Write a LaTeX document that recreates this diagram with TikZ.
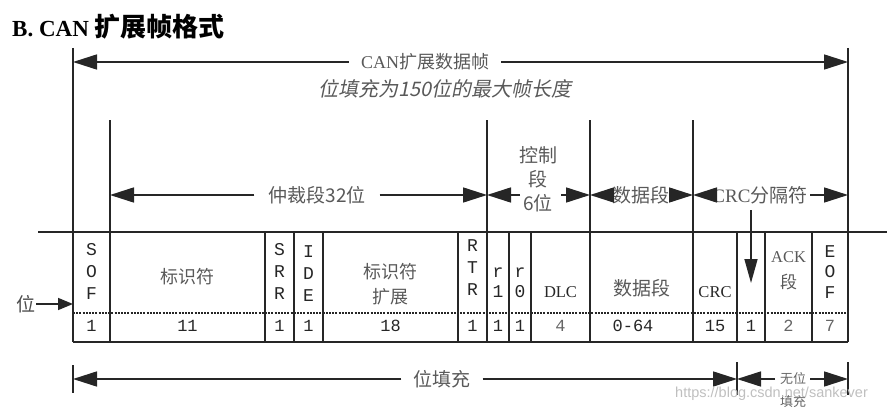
\documentclass[tikz,border=0pt]{standalone}
\usepackage{fontspec}
\setmainfont{Liberation Serif}
\newfontfamily\cjk{Noto Sans CJK SC}
\newfontfamily\cjkit[FakeSlant=0.2]{Noto Sans CJK SC}
\newfontfamily\mono{Liberation Mono}
\newfontfamily\wm{Liberation Sans}
\usetikzlibrary{arrows.meta}
\begin{document}
\begin{tikzpicture}[x=1pt,y=-1pt,
  >={Triangle[length=24pt,width=15pt]},
  frame/.style={line width=1.5pt, draw=black!85},
  dim/.style={line width=1.6pt, draw=black!85},
  lab/.style={font=\cjk\fontsize{19}{24}\selectfont, text=black!65, inner sep=0pt, align=center},
  labit/.style={font=\cjkit\fontsize{20}{22}\selectfont, text=black!65, inner sep=0pt},
  cell/.style={font=\cjk\fontsize{18}{25}\selectfont, text=black!65, align=center, inner sep=0pt},
  lett/.style={font=\mono\fontsize{18}{22}\selectfont, text=black!85, align=center, inner sep=0pt},
  lat/.style={font=\fontsize{16.5}{20}\selectfont, text=black!85, inner sep=0pt},
  num/.style={font=\mono\fontsize{17}{20}\selectfont, text=black!85, inner sep=0pt},
  small/.style={font=\cjk\fontsize{13}{23}\selectfont, text=black!60, align=center, inner sep=0pt}
]
\useasboundingbox (0,0) rectangle (895,412);

% title
\node[anchor=west, inner sep=0pt, font=\bfseries\fontsize{23}{28}\selectfont] (title) at (12,27) {B. CAN {\cjk\bfseries\fontsize{26}{28}\selectfont 扩展帧格式}};

% frame verticals
\draw[frame] (73,48) -- (73,342);
\draw[frame] (848,48) -- (848,342);
\foreach \x in {110,487,590,693} \draw[frame] (\x,120) -- (\x,342);

% table
\draw[frame] (38,232) -- (887,232);
\draw[frame] (73,342) -- (848,342);
\foreach \x in {265,294,323,458,509,531,737,765,812} \draw[frame] (\x,232) -- (\x,342);
\draw[line width=1.8pt, draw=black!85, dash pattern=on 2pt off 1.2pt] (73,313) -- (848,313);

% whole frame arrow
\node[lab, font=\cjk\fontsize{18}{24}\selectfont, inner xsep=12pt] (frm) at (425,62) {{\rmfamily CAN}扩展数据帧};
\coordinate (frmL) at (73,62);
\coordinate (frmR) at (848,62);
\draw[dim,->] (frm) -- (frmL);
\draw[dim,->] (frm) -- (frmR);
\node[labit] (frmsub) at (445,89) {位填充为150位的最大帧长度};

% arbitration
\node[lab, inner xsep=14pt] (arb) at (317,195) {仲裁段32位};
\coordinate (arbL) at (110,195);
\coordinate (arbR) at (487,195);
\draw[dim,->] (arb) -- (arbL);
\draw[dim,->] (arb) -- (arbR);

% control
\node[lab] (ctl) at (538,179) {控制\\段\\6位};
\coordinate (ctlA) at (520,195);
\coordinate (ctlB) at (561,195);
\coordinate (ctlR) at (590,195);
\draw[dim,->] (ctlA) -- (arbR);
\draw[dim,->] (ctlB) -- (ctlR);

% data
\node[lab] (dat) at (641,195) {数据段};
\coordinate (datR) at (693,195);
\draw[dim,->] (dat) -- (ctlR);
\draw[dim,->] (dat) -- (datR);

% CRC delimiter
\node[lab] (crcd) at (760,195) {{\rmfamily CRC}分隔符};
\coordinate (crcA) at (810,195);
\coordinate (crcR) at (848,195);
\draw[dim,->] (crcd) -- (datR);
\draw[dim,->] (crcA) -- (crcR);
\coordinate (dlt) at (751,210);
\coordinate (dlb) at (751,283);
\draw[dim,-{Triangle[length=24pt,width=13pt]}] (dlt) -- (dlb);

% bit pointer
\node[font=\cjk\fontsize{19}{22}\selectfont, text=black!70, inner sep=0pt] (wei) at (26,304) {位};
\coordinate (weiT) at (73,304);
\draw[dim,-{Triangle[length=15pt,width=12pt]}] (wei) ++(10,0) -- (weiT);

% cells
\node[lett] (sof) at (91.5,271) {S\\O\\F};
\node[cell] (id) at (187.5,277) {标识符};
\node[lett] (srr) at (279.5,271) {S\\R\\R};
\node[lett] (ide) at (308.5,274) {I\\D\\E};
\node[cell] (ext) at (390.5,284) {标识符\\扩展};
\node[lett] (rtr) at (472.5,268) {R\\T\\R};
\node[lett, font=\mono\fontsize{18}{20}\selectfont] (r1) at (498,283) {r\\1};
\node[lett, font=\mono\fontsize{18}{20}\selectfont] (r0) at (520,283) {r\\0};
\node[lat] (dlc) at (560.5,292) {DLC};
\node[cell, font=\cjk\fontsize{19}{25}\selectfont] (data) at (641.5,288) {数据段};
\node[lat] (crc) at (715,292) {CRC};
\node[cell, font=\cjk\fontsize{17}{26}\selectfont] (ack) at (788.5,271) {{\rmfamily\fontsize{16.5}{20}\selectfont ACK}\\段};
\node[lett, font=\mono\fontsize{18}{20.5}\selectfont] (eof) at (830,272) {E\\O\\F};

% bit counts
\node[num] (n1) at (91.5,326) {1};
\node[num] (n2) at (187.5,326) {11};
\node[num] (n3) at (279.5,326) {1};
\node[num] (n4) at (308.5,326) {1};
\node[num] (n5) at (390.5,326) {18};
\node[num] (n6) at (472.5,326) {1};
\node[num] (n7) at (498,326) {1};
\node[num] (n8) at (520,326) {1};
\node[num, text=black!60] (n9) at (560.5,326) {4};
\node[num] (n10) at (633,326) {0-64};
\node[num] (n11) at (715,326) {15};
\node[num] (n12) at (751,326) {1};
\node[num, text=black!60] (n13) at (788.5,326) {2};
\node[num, text=black!60] (n14) at (830,326) {7};

% bottom arrows
\draw[frame] (73,365) -- (73,393);
\draw[frame] (737,362) -- (737,395);
\draw[frame] (848,362) -- (848,395);
\node[lab, font=\cjk\fontsize{19}{22}\selectfont, inner xsep=12pt] (stf) at (442,379) {位填充};
\coordinate (stfL) at (73,379);
\coordinate (stfR) at (737,379);
\coordinate (endR) at (848,379);
\draw[dim,->] (stf) -- (stfL);
\draw[dim,->] (stf) -- (stfR);
\node[small] (nst) at (793,390) {无位\\填充};
\coordinate (nA) at (775,379);
\coordinate (nB) at (810,379);
\draw[dim,->] (nA) -- (stfR);
\draw[dim,->] (nB) -- (endR);

% watermark
\node[font=\wm\fontsize{14.5}{17}\selectfont, text=black!25, anchor=west, inner sep=0pt] (wmk) at (675,394) {https://blog.csdn.net/sankever};
\end{tikzpicture}
\end{document}
